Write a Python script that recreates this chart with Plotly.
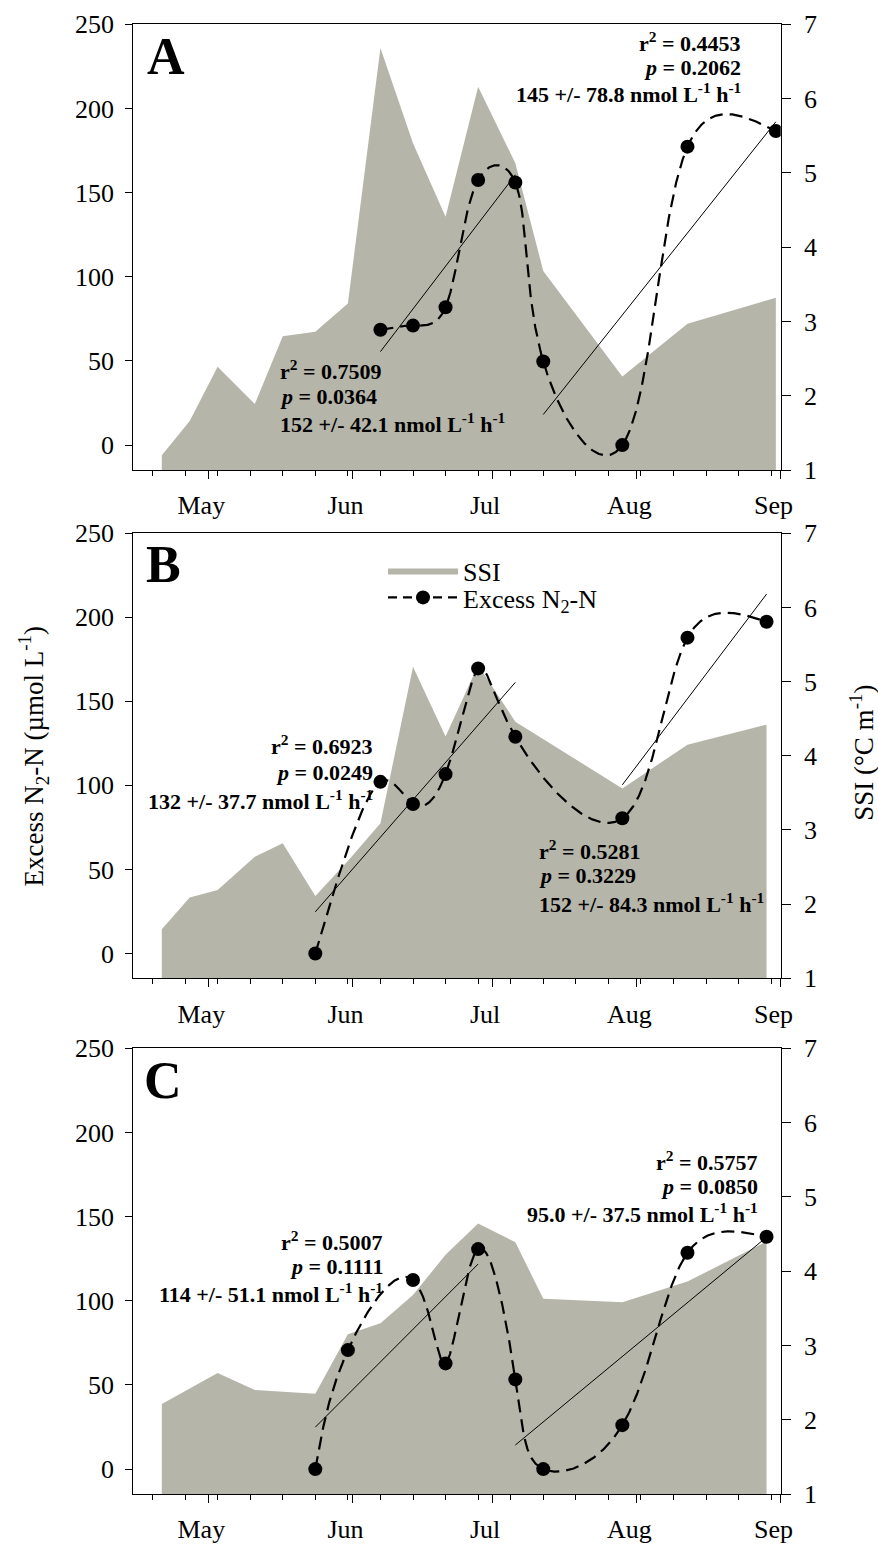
import numpy as np
import pandas as pd
import plotly.graph_objects as go

YEAR = 2012

# ---- Panel A ----
ssi_dates_a = ["04-21", "04-27", "05-03", "05-11", "05-17", "05-24", "05-31", "06-07",
               "06-14", "06-21", "06-28", "07-06", "07-12", "07-29", "08-12", "08-31"]
ssi_a = [1.20, 1.66, 2.39, 1.89, 2.80, 2.86, 3.24, 6.68,
         5.40, 4.41, 6.16, 5.13, 3.68, 2.26, 2.97, 3.32]
n2_dates_a = ["06-07", "06-14", "06-21", "06-28", "07-06", "07-12", "07-29", "08-12", "08-31"]
n2_a = [68.5, 71.0, 81.9, 157.5, 156.0, 49.7, 0.0, 177.3, 186.6]
fits_a = [(0, 4), (5, 8)]
stats_a = [["0.7509", "0.0364", "152 +/- 42.1"], ["0.4453", "0.2062", "145 +/- 78.8"]]

# ---- Panel B ----
ssi_dates_b = ["04-21", "04-27", "05-03", "05-11", "05-17", "05-24", "05-31", "06-07",
               "06-14", "06-21", "06-28", "07-06", "07-29", "08-12", "08-29"]
ssi_b = [1.66, 2.09, 2.19, 2.64, 2.82, 2.11, 2.58, 3.09,
         5.20, 4.26, 5.22, 4.46, 3.56, 4.15, 4.42]
n2_dates_b = ["05-24", "06-07", "06-14", "06-21", "06-28", "07-06", "07-29", "08-12", "08-29"]
n2_b = [0.0, 102.1, 88.9, 106.7, 169.6, 128.9, 80.4, 187.9, 197.4]
fits_b = [(0, 5), (6, 8)]
stats_b = [["0.6923", "0.0249", "132 +/- 37.7"], ["0.5281", "0.3229", "152 +/- 84.3"]]

# ---- Panel C ----
ssi_dates_c = ["04-21", "05-03", "05-11", "05-24", "05-31", "06-07", "06-14",
               "06-21", "06-28", "07-06", "07-12", "07-29", "08-12", "08-29"]
ssi_c = [2.21, 2.63, 2.40, 2.35, 3.15, 3.30, 3.68,
         4.22, 4.64, 4.39, 3.63, 3.58, 3.86, 4.40]
n2_dates_c = ["05-24", "05-31", "06-14", "06-21", "06-28", "07-06", "07-12", "07-29", "08-12", "08-29"]
n2_c = [0.0, 70.7, 112.3, 62.8, 130.7, 53.3, 0.0, 26.1, 128.5, 138.0]
fits_c = [(0, 4), (5, 9)]
stats_c = [["0.5007", "0.1111", "114 +/- 51.1"], ["0.5757", "0.0850", "95.0 +/- 37.5"]]

panel_letters = ["A", "B", "C"]
month_ticks = ["May", "Jun", "Jul", "Aug", "Sep"]
n2_ticks = [0, 50, 100, 150, 200, 250]
ssi_ticks = [1, 2, 3, 4, 5, 6, 7]

FONT = "Liberation Serif, Times New Roman, serif"
GRAY = "#b5b5aa"
W, H = 878, 1547

# plot-area layout in pixels
X0, X1 = 133.3, 780.7
PANEL_Y = [(24.3, 470.0), (533.3, 978.3), (1048.3, 1494.0)]
X_RANGE = [pd.Timestamp(f"{YEAR}-04-14 21:00"), pd.Timestamp(f"{YEAR}-09-01 01:00")]
N2_RANGE = [-14.8, 250]

# statistics blocks: (x px, [line centre y px], anchor)
stat_pos = [
    [(278.0, [370.0, 396.7, 423.3], "left"), (743.3, [41.7, 67.5, 93.3], "right")],
    [(375.0, [745.0, 772.3, 800.0], "right"), (536.7, [850.0, 875.0, 903.3], "left")],
    [(385.0, [1240.7, 1266.0, 1293.3], "right"), (760.0, [1161.0, 1186.7, 1213.3], "right")],
]
letter_pos = [(145.0, 56.5), (144.0, 564.0), (142.0, 1080.0)]


def to_dates(md):
    return pd.to_datetime([f"{YEAR}-{d}" for d in md])


def natural_spline(x, y, xs):
    """Natural cubic spline through (x, y), evaluated at xs."""
    x = np.asarray(x, float)
    y = np.asarray(y, float)
    n = len(x)
    h = np.diff(x)
    A = np.zeros((n, n))
    r = np.zeros(n)
    A[0, 0] = A[-1, -1] = 1.0
    for k in range(1, n - 1):
        A[k, k - 1] = h[k - 1]
        A[k, k] = 2 * (h[k - 1] + h[k])
        A[k, k + 1] = h[k]
        r[k] = 6 * ((y[k + 1] - y[k]) / h[k] - (y[k] - y[k - 1]) / h[k - 1])
    M = np.linalg.solve(A, r)
    idx = np.clip(np.searchsorted(x, xs, side="right") - 1, 0, n - 2)
    x0, x1 = x[idx], x[idx + 1]
    hh = x1 - x0
    return (M[idx] * (x1 - xs) ** 3 / (6 * hh) + M[idx + 1] * (xs - x0) ** 3 / (6 * hh)
            + (y[idx] / hh - M[idx] * hh / 6) * (x1 - xs)
            + (y[idx + 1] / hh - M[idx + 1] * hh / 6) * (xs - x0))


def smooth_curve(days, vals, sx, sy, alpha=0.25, n=900):
    """Parametric cubic spline through the samples in screen units
    (knot spacing = chord length ** alpha)."""
    px = np.asarray(days, float) * sx
    py = np.asarray(vals, float) * sy
    seg = np.hypot(np.diff(px), np.diff(py)) ** alpha
    t = np.concatenate([[0.0], np.cumsum(seg)])
    ts = np.linspace(0.0, t[-1], n)
    return natural_spline(t, px, ts) / sx, natural_spline(t, py, ts) / sy


panels = [
    (ssi_dates_a, ssi_a, n2_dates_a, n2_a, fits_a, stats_a),
    (ssi_dates_b, ssi_b, n2_dates_b, n2_b, fits_b, stats_b),
    (ssi_dates_c, ssi_c, n2_dates_c, n2_c, fits_c, stats_c),
]

# screen scale of the time axis (pixels per day)
px_per_day = (X1 - X0) / ((X_RANGE[1] - X_RANGE[0]).total_seconds() / 86400)

DASH = "13px,7px"
fig = go.Figure()
annotations = []
layout_axes = {}

for i, (sd, sv, nd, nv, fits, stats) in enumerate(panels):
    xname = "x" if i == 0 else f"x{i + 1}"
    ys_name = "y" if i == 0 else f"y{2 * i + 1}"
    yn_name = f"y{2 * i + 2}"
    s_dates = to_dates(sd)
    n_dates = to_dates(nd)
    top, bot = PANEL_Y[i]
    px_per_val = (bot - top) / (N2_RANGE[1] - N2_RANGE[0])

    # SSI area
    fig.add_trace(go.Scatter(
        x=s_dates, y=sv, xaxis=xname, yaxis=ys_name, mode="lines",
        fill="tozeroy", fillcolor=GRAY, line=dict(width=0, color=GRAY),
        name="SSI", showlegend=(i == 1), legend="legend"))

    # Excess N2-N: smooth dashed curve through the samples plus sample markers
    days = np.array([(d - n_dates[0]).days for d in n_dates], dtype=float)
    vals = np.array(nv, dtype=float)
    cx, cy = smooth_curve(days, vals, px_per_day, px_per_val)
    fig.add_trace(go.Scatter(
        x=n_dates[0] + pd.to_timedelta(cx, unit="D"), y=cy,
        xaxis=xname, yaxis=yn_name, mode="lines",
        line=dict(color="black", width=2.2, dash=DASH),
        showlegend=False, hoverinfo="skip"))
    fig.add_trace(go.Scatter(
        x=n_dates, y=nv, xaxis=xname, yaxis=yn_name, mode="markers",
        marker=dict(size=14, color="black"),
        name="Excess N<sub>2</sub>-N", showlegend=False))

    # linear regressions over the two sub-periods
    for (a, b) in fits:
        slope, icpt = np.polyfit(days[a:b + 1], vals[a:b + 1], 1)
        ends = np.array([days[a], days[b]])
        fig.add_trace(go.Scatter(
            x=[n_dates[a], n_dates[b]], y=slope * ends + icpt,
            xaxis=xname, yaxis=yn_name, mode="lines",
            line=dict(color="black", width=1), showlegend=False, hoverinfo="skip"))

    dom_y = [1 - bot / H, 1 - top / H]
    dom_x = [X0 / W, X1 / W]

    tickfont = dict(family=FONT, size=26, color="black")
    layout_axes["xaxis" if i == 0 else f"xaxis{i + 1}"] = dict(
        domain=dom_x, anchor=ys_name, type="date",
        range=[str(X_RANGE[0]), str(X_RANGE[1])],
        tickmode="array",
        tickvals=[f"{YEAR}-{m:02d}-01" for m in range(5, 10)],
        ticktext=month_ticks,
        ticks="outside", ticklen=8, tickwidth=1.3, tickcolor="black",
        minor=dict(ticks="outside", ticklen=5, tickwidth=1.3, tickcolor="black",
                   dtick=7 * 86400000, tick0=f"{YEAR}-04-19", showgrid=False),
        ticklabelshift=-7, ticklabelstandoff=4,
        showline=True, linewidth=1.3, linecolor="black", mirror=True,
        showgrid=False, zeroline=False, tickfont=tickfont, automargin=False)
    layout_axes["yaxis" if i == 0 else f"yaxis{2 * i + 1}"] = dict(
        domain=dom_y, anchor=xname, side="right", range=[1, 7],
        tickvals=ssi_ticks, ticks="outside", ticklen=9, tickwidth=1.3, tickcolor="black",
        ticklabelstandoff=8,
        showline=True, linewidth=1.3, linecolor="black",
        showgrid=False, zeroline=False, tickfont=tickfont, automargin=False)
    layout_axes[f"yaxis{2 * i + 2}"] = dict(
        domain=dom_y, anchor=xname, overlaying=ys_name, side="left", range=N2_RANGE,
        tickvals=n2_ticks, ticks="outside", ticklen=7, tickwidth=1.3, tickcolor="black",
        ticklabelstandoff=6,
        showline=True, linewidth=1.3, linecolor="black",
        showgrid=False, zeroline=False, tickfont=tickfont, automargin=False)

    # panel letter
    lx, ly = letter_pos[i]
    annotations.append(dict(
        text=f"<b>{panel_letters[i]}</b>", xref="paper", yref="paper",
        x=lx / W, y=1 - ly / H, xanchor="left", yanchor="middle", showarrow=False,
        font=dict(family=FONT, size=52, color="black")))

    # regression statistics, one annotation per line
    for (sx, line_ys, anc), (r2, p, rate) in zip(stat_pos[i], stats):
        lines = [f"<b>r<sup>2</sup> = {r2}</b>", f"<b><i>p</i> = {p}</b>",
                 f"<b>{rate} nmol L<sup>-1</sup> h<sup>-1</sup></b>"]
        for txt, ly_px in zip(lines, line_ys):
            annotations.append(dict(
                text=txt, xref="paper", yref="paper",
                x=sx / W, y=1 - ly_px / H, xanchor=anc, yanchor="middle",
                align=anc, showarrow=False,
                font=dict(family=FONT, size=22, color="black")))

# legend entry for the N2 series (no data of its own)
fig.add_trace(go.Scatter(
    x=[None], y=[None], xaxis="x2", yaxis="y4", mode="lines+markers",
    line=dict(color="black", width=2.2, dash="9px,6px"),
    marker=dict(size=14, color="black"),
    name="Excess N<sub>2</sub>-N", showlegend=True, legend="legend2"))

# axis titles
annotations.append(dict(
    text="Excess N<sub>2</sub>-N (µmol L<sup>-1</sup>)", xref="paper", yref="paper",
    x=33.5 / W, y=1 - 757 / H, textangle=-90, showarrow=False,
    xanchor="center", yanchor="middle", font=dict(family=FONT, size=27, color="black")))
annotations.append(dict(
    text="SSI (°C m<sup>-1</sup>)", xref="paper", yref="paper",
    x=861.7 / W, y=1 - 753 / H, textangle=-90, showarrow=False,
    xanchor="center", yanchor="middle", font=dict(family=FONT, size=27, color="black")))

legend_style = dict(xanchor="left", yanchor="top", bgcolor="rgba(0,0,0,0)",
                    font=dict(family=FONT, size=26, color="black"),
                    itemwidth=70, tracegroupgap=0)
fig.update_layout(
    width=W, height=H, margin=dict(l=0, r=0, t=0, b=0),
    paper_bgcolor="white", plot_bgcolor="white",
    font=dict(family=FONT, size=26, color="black"),
    showlegend=True,
    legend=dict(x=383 / W, y=1 - 547 / H, **legend_style),
    legend2=dict(x=383 / W, y=1 - 574 / H, **legend_style),
    annotations=annotations,
    **layout_axes,
)

fig.write_html("out.html")
